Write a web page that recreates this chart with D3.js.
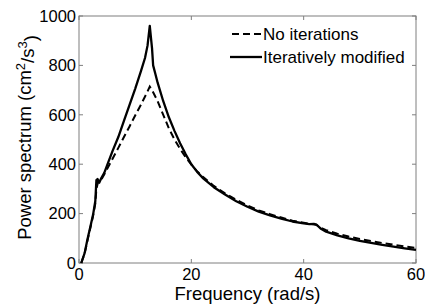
<!DOCTYPE html>
<html>
<head>
<meta charset="utf-8">
<script src="https://cdn.jsdelivr.net/npm/d3@7"></script>
<style>
  body { margin: 0; background: #fff; }
  svg text { font-family: Arial, "Liberation Sans", sans-serif; fill: #000; }
</style>
</head>
<body>
<div class="chart"></div>
<script>
// frequency samples (rad/s) and the two spectra
var freqA = [0.4, 1, 1.5, 2, 2.5, 2.9, 3.1, 3.3, 3.6, 4, 4.5, 5, 6, 7, 8, 9, 10, 11, 11.75, 12.2, 12.6,
             13.0, 13.2, 13.6, 14, 15, 16, 17, 18, 19, 20, 21, 22, 24, 26, 28, 30, 32, 34, 36, 38, 40,
             41, 41.8, 42.3, 43, 44, 46, 48, 50, 52, 54, 56, 58, 60];
var iterated = [0, 40, 95, 145, 195, 250, 336, 340, 325, 345, 365, 395, 455, 510, 575, 640, 705, 775, 830, 880, 960,
                870, 800, 765, 730, 655, 590, 535, 485, 440, 400, 370, 345, 307, 277, 250, 228, 208, 193, 180, 168, 160,
                157, 158, 155, 140, 127, 112, 100, 90, 81, 73, 66, 59, 53];

var freqB = [0.4, 1, 1.5, 2, 2.5, 2.9, 3.1, 3.4, 3.8, 4, 5, 6, 7, 8, 9, 10, 11, 12, 12.6,
             13, 14, 15, 16, 17, 18, 19, 20, 21, 22, 24, 26, 28, 30, 32, 34, 36, 38, 40,
             41, 41.8, 42.3, 43, 44, 46, 48, 50, 52, 54, 56, 58, 60];
var noIter = [0, 38, 90, 140, 190, 240, 300, 328, 330, 338, 380, 423, 466, 510, 553, 597, 640, 685, 714,
              700, 655, 600, 545, 500, 462, 428, 398, 372, 350, 312, 282, 256, 233, 213, 198, 184, 171, 163,
              159, 157, 154, 143, 133, 119, 107, 97, 89, 81, 74, 67, 61];

var xTicks = [0, 20, 40, 60];
var yTicks = [0, 200, 400, 600, 800, 1000];

var margin = {top: 16, right: 9, bottom: 42, left: 79};
var W = 425, H = 305;
var w = W - margin.left - margin.right;
var h = H - margin.top - margin.bottom;

var svg = d3.select(".chart").append("svg")
    .attr("width", W).attr("height", H);

var g = svg.append("g").attr("transform", "translate(" + margin.left + "," + margin.top + ")");

var x = d3.scaleLinear().domain([0, 60]).range([0, w]);
var y = d3.scaleLinear().domain([0, 1000]).range([h, 0]);

var axisCol = "#7f7f7f";
var tickLen = 4;

// box
g.append("rect")
    .attr("x", 0).attr("y", 0).attr("width", w).attr("height", h)
    .attr("fill", "none").attr("stroke", axisCol).attr("stroke-width", 1);

// ticks on all four sides, pointing inward
xTicks.forEach(function(t) {
    g.append("line").attr("x1", x(t)).attr("x2", x(t)).attr("y1", h).attr("y2", h - tickLen).attr("stroke", axisCol);
    g.append("line").attr("x1", x(t)).attr("x2", x(t)).attr("y1", 0).attr("y2", tickLen).attr("stroke", axisCol);
    g.append("text").attr("x", x(t)).attr("y", h + 17).attr("text-anchor", "middle")
        .style("font-size", "16.5px").text(t);
});
yTicks.forEach(function(t) {
    g.append("line").attr("x1", 0).attr("x2", tickLen).attr("y1", y(t)).attr("y2", y(t)).attr("stroke", axisCol);
    g.append("line").attr("x1", w).attr("x2", w - tickLen).attr("y1", y(t)).attr("y2", y(t)).attr("stroke", axisCol);
    g.append("text").attr("x", -3).attr("y", y(t)).attr("dy", "0.35em").attr("text-anchor", "end")
        .style("font-size", "16.5px").text(t);
});

var line = d3.line()
    .x(function(d) { return x(d[0]); })
    .y(function(d) { return y(d[1]); });

g.append("path")
    .datum(d3.zip(freqB, noIter))
    .attr("d", line)
    .attr("fill", "none").attr("stroke", "#000").attr("stroke-width", 2)
    .attr("stroke-dasharray", "7,4");

g.append("path")
    .datum(d3.zip(freqA, iterated))
    .attr("d", line)
    .attr("fill", "none").attr("stroke", "#000").attr("stroke-width", 2.3)
    .attr("stroke-linejoin", "round");

// legend
var leg = svg.append("g");
leg.append("line").attr("x1", 232).attr("x2", 262).attr("y1", 34).attr("y2", 34)
    .attr("stroke", "#000").attr("stroke-width", 2).attr("stroke-dasharray", "7,4");
leg.append("text").attr("x", 263).attr("y", 34).attr("dy", "0.35em")
    .style("font-size", "17px").text("No iterations");
leg.append("line").attr("x1", 230).attr("x2", 262).attr("y1", 57).attr("y2", 57)
    .attr("stroke", "#000").attr("stroke-width", 2.3);
leg.append("text").attr("x", 263).attr("y", 57).attr("dy", "0.35em")
    .style("font-size", "17px").text("Iteratively modified");

// axis titles
svg.append("text").attr("x", margin.left + w / 2).attr("y", 300).attr("text-anchor", "middle")
    .style("font-size", "18.5px").text("Frequency (rad/s)");

var yl = svg.append("text")
    .attr("transform", "translate(31," + (margin.top + h / 2 - 2) + ") rotate(-90)")
    .attr("text-anchor", "middle")
    .style("font-size", "18.5px");
yl.append("tspan").text("Power spectrum (cm");
yl.append("tspan").attr("dy", "-0.5em").style("font-size", "13px").text("2");
yl.append("tspan").attr("dy", "0.5em").text("/s");
yl.append("tspan").attr("dy", "-0.5em").style("font-size", "13px").text("3");
yl.append("tspan").attr("dy", "0.5em").text(")");
</script>
</body>
</html>
